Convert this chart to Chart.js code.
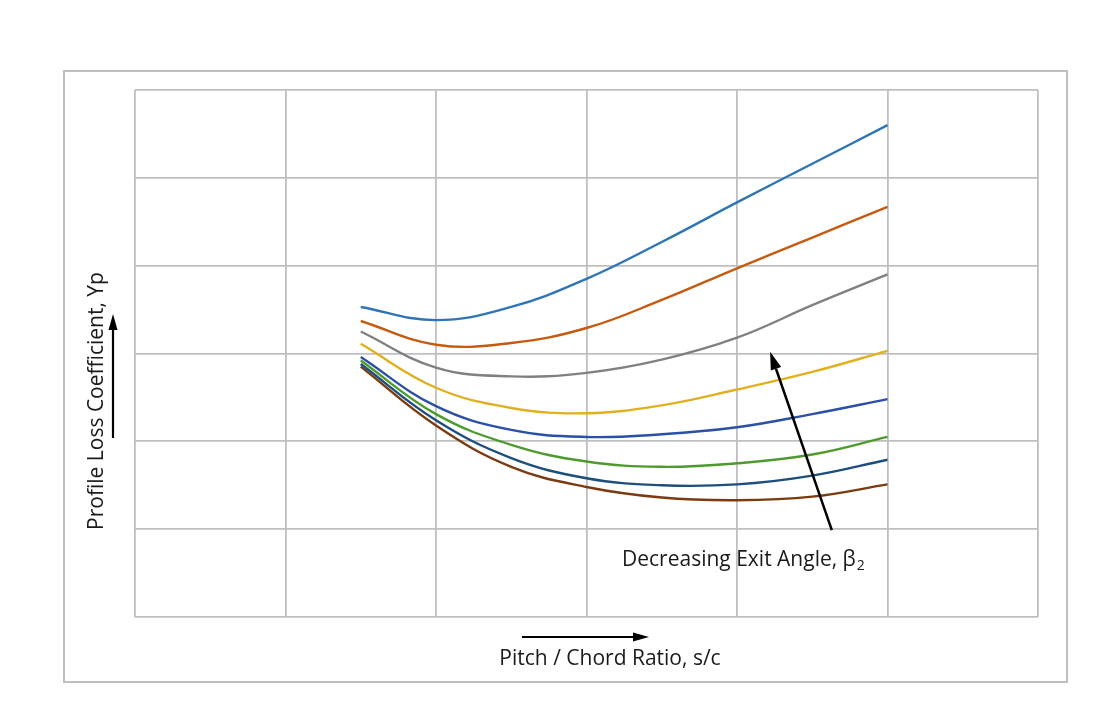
<!DOCTYPE html>
<html>
<head>
<meta charset="utf-8">
<script src="https://cdn.jsdelivr.net/npm/chart.js@4.4.0/dist/chart.umd.min.js"></script>
<style>
  body { margin: 0; background: #fff; }
  #wrap { width: 1106px; height: 715px; }
</style>
</head>
<body>
<div id="wrap"><canvas id="grafico" width="1106" height="715"></canvas></div>
<script>
// Dados (escala arbitrária 0..6 nos dois eixos, sem rótulos)
const passoCorda = [1.5, 2, 2.5, 3, 3.5, 4, 4.5, 5];

const curva1 = [3.53, 3.38, 3.53, 3.85, 4.27, 4.72, 5.16, 5.60];
const curva2 = [3.37, 3.10, 3.12, 3.29, 3.61, 3.97, 4.32, 4.67];
const curva3 = [3.25, 2.84, 2.74, 2.78, 2.93, 3.18, 3.55, 3.90];
const curva4 = [3.11, 2.61, 2.38, 2.32, 2.41, 2.59, 2.79, 3.03];
const curva5 = [2.96, 2.40, 2.13, 2.05, 2.08, 2.16, 2.31, 2.48];
const curva6 = [2.92, 2.31, 1.96, 1.77, 1.71, 1.75, 1.85, 2.05];
const curva7 = [2.88, 2.24, 1.81, 1.58, 1.50, 1.51, 1.61, 1.79];
const curva8 = [2.85, 2.18, 1.71, 1.48, 1.36, 1.33, 1.37, 1.51];

const cores = ['#2E75B6', '#C55A11', '#808080', '#E0B020', '#2B50A4', '#4E9A2E', '#1D4F7C', '#7B3A10'];
const todasCurvas = [curva1, curva2, curva3, curva4, curva5, curva6, curva7, curva8];

const tituloX = 'Pitch / Chord Ratio, s/c';
const tituloY = 'Profile Loss Coefficient, Yp';
const textoAnotacao = 'Decreasing Exit Angle, \u03B2';

const corGrade = '#BFBFBF';
const fonte = '"Open Sans", sans-serif';

function desenharSeta(ctx, x1, y1, x2, y2, largura, compCabeca, largCabeca) {
  const ang = Math.atan2(y2 - y1, x2 - x1);
  const bx = x2 - Math.cos(ang) * compCabeca;
  const by = y2 - Math.sin(ang) * compCabeca;
  ctx.save();
  ctx.strokeStyle = '#000';
  ctx.fillStyle = '#000';
  ctx.lineWidth = largura;
  ctx.beginPath();
  ctx.moveTo(x1, y1);
  ctx.lineTo(bx, by);
  ctx.stroke();
  ctx.beginPath();
  ctx.moveTo(x2, y2);
  ctx.lineTo(bx + Math.sin(ang) * largCabeca / 2, by - Math.cos(ang) * largCabeca / 2);
  ctx.lineTo(bx - Math.sin(ang) * largCabeca / 2, by + Math.cos(ang) * largCabeca / 2);
  ctx.closePath();
  ctx.fill();
  ctx.restore();
}

// moldura externa, títulos, setas e anotação
const decoracao = {
  id: 'decoracao',
  beforeDraw(chart) {
    const ctx = chart.ctx;
    ctx.save();
    ctx.fillStyle = '#fff';
    ctx.fillRect(0, 0, chart.width, chart.height);
    ctx.strokeStyle = corGrade;
    ctx.lineWidth = 2;
    ctx.strokeRect(64, 71, 1003, 611);
    ctx.restore();
  },
  afterDraw(chart) {
    const ctx = chart.ctx;
    const sx = chart.scales.x, sy = chart.scales.y;
    ctx.save();
    ctx.fillStyle = '#1a1a1a';
    ctx.font = '21px ' + fonte;
    ctx.textAlign = 'center';
    ctx.textBaseline = 'middle';
    ctx.fillText(tituloX, 610, 659);

    ctx.save();
    ctx.translate(97, 401);
    ctx.rotate(-Math.PI / 2);
    ctx.fillText(tituloY, 0, 0);
    ctx.restore();

    // anotação com beta subscrito
    ctx.textAlign = 'left';
    const w = ctx.measureText(textoAnotacao).width;
    const x0 = 622;
    const yTexto = sy.getPixelForValue(0.65);
    ctx.fillText(textoAnotacao, x0, yTexto);
    ctx.font = '14px ' + fonte;
    ctx.fillText('2', x0 + w + 1, yTexto + 6);
    ctx.restore();

    desenharSeta(ctx, 113, 438, 113, 314, 2.2, 16, 9);
    desenharSeta(ctx, 522, 637, 649, 637, 2.2, 16, 9);
    desenharSeta(ctx,
      sx.getPixelForValue(4.63), sy.getPixelForValue(0.99),
      sx.getPixelForValue(4.22), sy.getPixelForValue(3.02),
      2.5, 18, 11);
  }
};

const datasets = todasCurvas.map((valores, i) => ({
  label: 'Curva ' + (i + 1),
  data: passoCorda.map((x, j) => ({ x: x, y: valores[j] })),
  borderColor: cores[i],
  borderWidth: 2.4,
  pointRadius: 0,
  fill: false,
  tension: 0.4
}));

new Chart(document.getElementById('grafico'), {
  type: 'line',
  data: { datasets: datasets },
  options: {
    responsive: false,
    animation: false,
    devicePixelRatio: 1,
    layout: { padding: { left: 135, right: 68, top: 90, bottom: 98 } },
    plugins: {
      legend: { display: false },
      tooltip: { enabled: false }
    },
    scales: {
      x: {
        type: 'linear',
        min: 0, max: 6,
        ticks: { display: false, stepSize: 1 },
        grid: { color: corGrade, lineWidth: 1.8, drawTicks: false },
        border: { display: false }
      },
      y: {
        min: 0, max: 6,
        ticks: { display: false, stepSize: 1 },
        grid: { color: corGrade, lineWidth: 1.8, drawTicks: false },
        border: { display: false }
      }
    }
  },
  plugins: [decoracao]
});
</script>
</body>
</html>
